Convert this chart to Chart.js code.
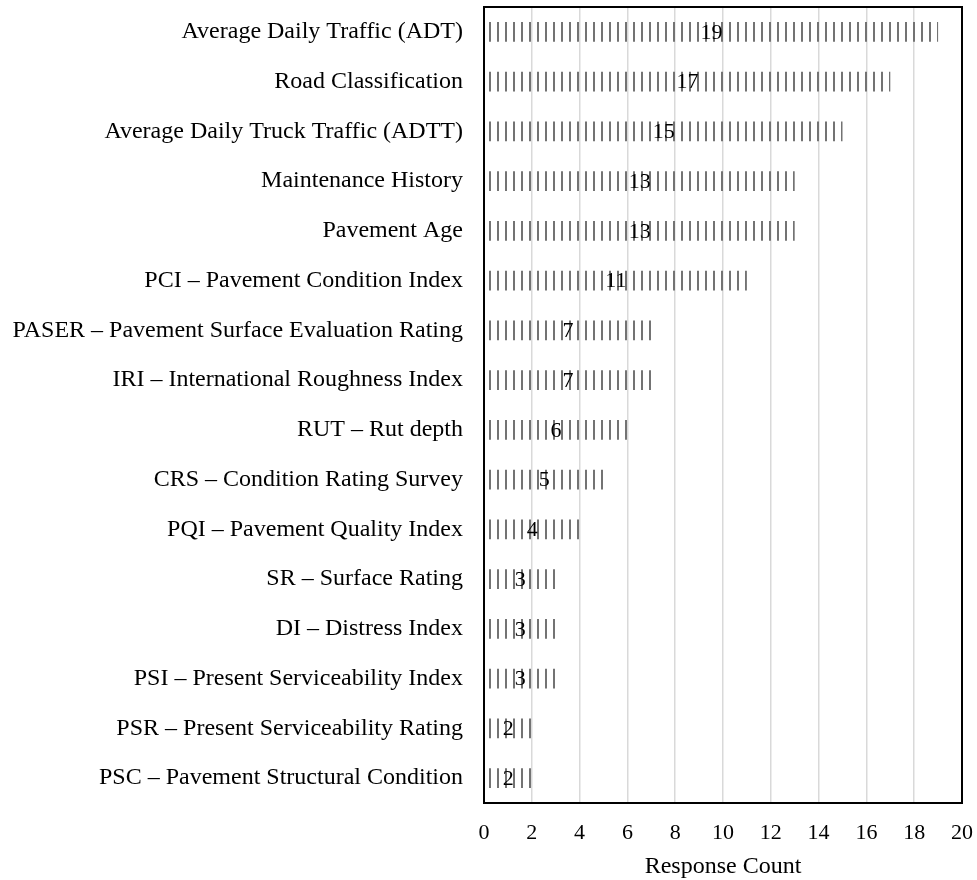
<!DOCTYPE html>
<html>
<head>
<meta charset="utf-8">
<script src="https://cdn.jsdelivr.net/npm/chart.js@4.4.0/dist/chart.umd.min.js"></script>
<style>
  html, body { margin: 0; padding: 0; background: #fff; }
  #wrap { width: 977px; height: 880px; }
</style>
</head>
<body>
<div id="wrap"><canvas id="chart" width="977" height="880"></canvas></div>
<script>
// survey answers: which inputs are used for treatment selection
const categories = [
  'Average Daily Traffic (ADT)',
  'Road Classification',
  'Average Daily Truck Traffic (ADTT)',
  'Maintenance History',
  'Pavement Age',
  'PCI \u2013 Pavement Condition Index',
  'PASER \u2013 Pavement Surface Evaluation Rating',
  'IRI \u2013 International Roughness Index',
  'RUT \u2013 Rut depth',
  'CRS \u2013 Condition Rating Survey',
  'PQI \u2013 Pavement Quality Index',
  'SR \u2013 Surface Rating',
  'DI \u2013 Distress Index',
  'PSI \u2013 Present Serviceability Index',
  'PSR \u2013 Present Serviceability Rating',
  'PSC \u2013 Pavement Structural Condition'
];
const counts = [19, 17, 15, 13, 13, 11, 7, 7, 6, 5, 4, 3, 3, 3, 2, 2];
const xTicks = [0, 2, 4, 6, 8, 10, 12, 14, 16, 18, 20];

const FONT = "'Liberation Serif', 'Times New Roman', serif";

// vertical hatch fill for the bars
function hatch() {
  let c = document.createElement('canvas');
  c.width = 8; c.height = 8;
  let g = c.getContext('2d');
  g.fillStyle = '#737373';
  g.fillRect(1, 0, 2, 8);
  return document.getElementById('chart').getContext('2d').createPattern(c, 'repeat');
}

function noPad(s) {
  s.paddingTop = 0; s.paddingBottom = 0;
  s.paddingLeft = 0; s.paddingRight = 0;
}

// value in the middle of each bar + black frame round the plot
const barText = {
  id: 'barText',
  afterDatasetsDraw(chart) {
    let ctx = chart.ctx;
    let meta = chart.getDatasetMeta(0);
    ctx.save();
    ctx.fillStyle = '#000';
    ctx.font = '22px ' + FONT;
    ctx.textAlign = 'center';
    ctx.textBaseline = 'middle';
    meta.data.forEach(function (bar, i) {
      ctx.fillText(String(counts[i]), (bar.x + bar.base) / 2, bar.y + 1);
    });
    ctx.restore();
  },
  afterDraw(chart) {
    let a = chart.chartArea;
    let ctx = chart.ctx;
    ctx.save();
    ctx.strokeStyle = '#000';
    ctx.lineWidth = 2;
    ctx.strokeRect(a.left, a.top, a.right - a.left, a.bottom - a.top);
    ctx.restore();
  }
};

new Chart(document.getElementById('chart'), {
  type: 'bar',
  data: {
    labels: categories,
    datasets: [{
      data: counts,
      backgroundColor: hatch(),
      borderWidth: 0,
      categoryPercentage: 1,
      barPercentage: 0.4
    }]
  },
  options: {
    indexAxis: 'y',
    responsive: false,
    animation: false,
    layout: { padding: { top: 7, right: 15, left: 0, bottom: 0 } },
    plugins: { legend: { display: false }, tooltip: { enabled: false } },
    scales: {
      x: {
        min: 0, max: 20,
        afterBuildTicks(s) { s.ticks = xTicks.map(v => ({ value: v })); },
        afterFit(s) { s.height = 77; noPad(s); },
        grid: { color: '#d9d9d9', lineWidth: 1.5, drawTicks: false },
        border: { display: false },
        ticks: { color: '#000', font: { family: FONT, size: 22 }, padding: 17, maxRotation: 0 },
        title: { display: true, text: 'Response Count', color: '#000', font: { family: FONT, size: 24, lineHeight: 1 }, padding: { top: 4, bottom: 1 } }
      },
      y: {
        afterFit(s) { s.width = 484; noPad(s); },
        grid: { display: false, drawTicks: false },
        border: { display: false },
        ticks: { color: '#000', font: { family: FONT, size: 24 }, padding: 21 }
      }
    }
  },
  plugins: [barText]
});
</script>
</body>
</html>
